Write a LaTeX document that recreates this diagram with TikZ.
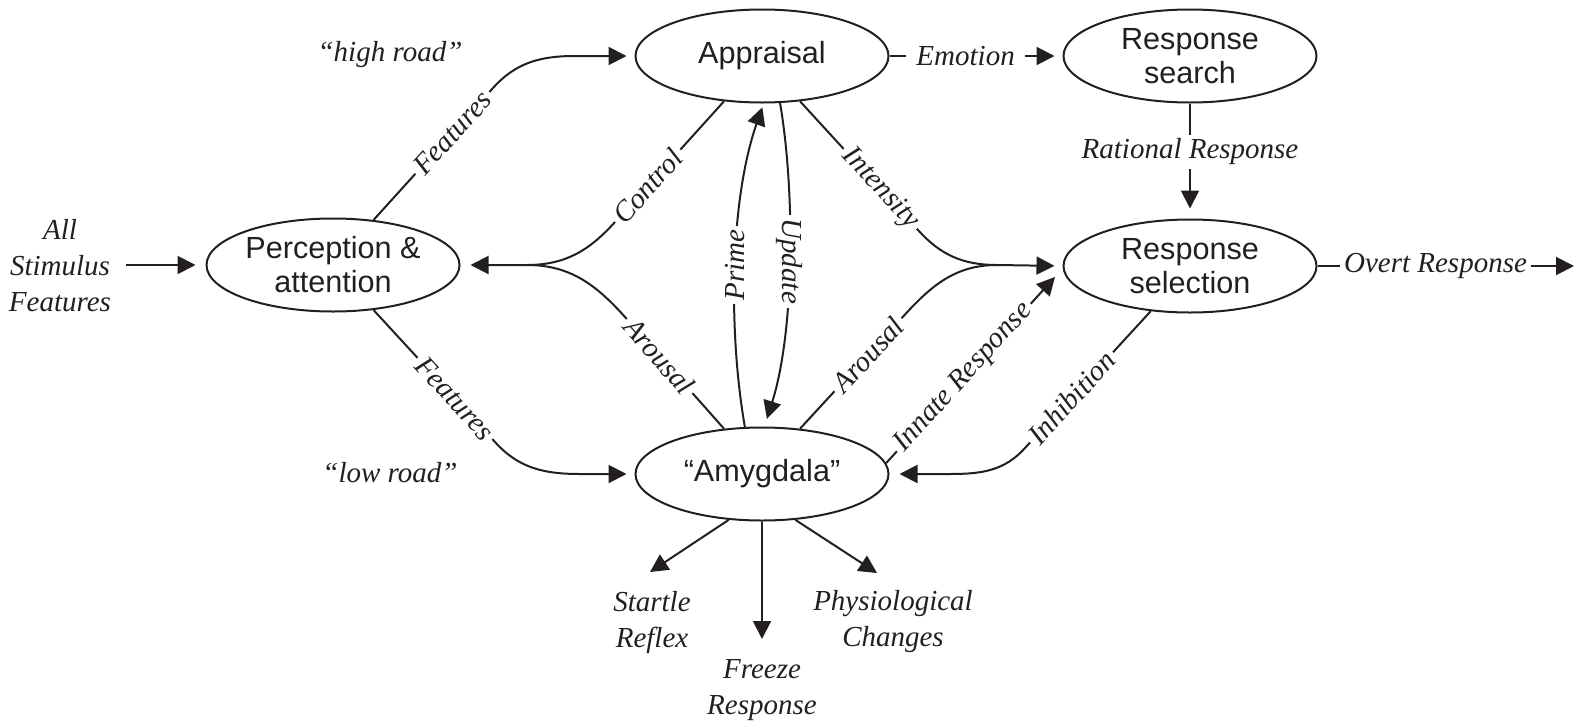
\documentclass[tikz,border=0pt]{standalone}
\usepackage{fontspec}
\setmainfont{Liberation Serif}
\newfontfamily\arialf{Liberation Sans}
\usetikzlibrary{arrows.meta,shapes.geometric}
\definecolor{ink}{RGB}{35,31,32}
\begin{document}
\begin{tikzpicture}[x=0.5pt,y=-0.5pt,
  box/.style={ellipse,draw=ink,line width=1pt,minimum width=126.5pt,minimum height=46.5pt,
    inner sep=0pt,align=center,text=ink,font=\arialf\fontsize{15.3}{17}\selectfont},
  lbl/.style={fill=white,text=ink,inner sep=2pt,font=\itshape\fontsize{14.5}{18}\selectfont},
  txt/.style={text=ink,align=center,font=\itshape\fontsize{14.5}{18}\selectfont},
  conn/.style={draw=ink,line width=1pt},
  arr/.style={conn,-{Triangle[length=9pt,width=9pt]}},
]
\useasboundingbox (0,0) rectangle (1575,723);

% processing stages
\node[box] (per)  at (333,265)  {Perception \&\\attention};
\node[box] (app)  at (762,56)   {Appraisal};
\node[box] (sear) at (1190,56)  {Response\\search};
\node[box] (sel)  at (1190,266) {Response\\selection};
\node[box] (amy)  at (762,474)  {“Amygdala”};

% free-standing texts
\node[txt] (stim) at (60,266)  {All\\Stimulus\\Features};
\node[txt] (hi)   at (390,55)  {“high road”};
\node[txt] (lo)   at (390,473) {“low road”};
\node[txt] (star) at (652,623) {Startle\\Reflex};
\node[txt] (frz)  at (762,690) {Freeze\\Response};
\node[txt] (phys) at (893,622) {Physiological\\Changes};

% junctions and free arrow ends
\coordinate (jl) at (527,265);
\coordinate (jr) at (997,265);
\coordinate (innEnd) at (1055,277);
\coordinate (outEnd) at (1574,266);
\coordinate (starTip) at (650,572);
\coordinate (frzTip) at (762,639);
\coordinate (physTip) at (877,573);

% input
\draw[arr,shorten <=4pt,shorten >=5pt] (stim.east |- per.west) -- (per.west);

% high road and low road
\draw[arr,shorten >=4pt] (per.48) -- node[lbl,sloped,pos=.66]{Features} (493,88)
  to[out=48,in=180] (575,56) -- (app.west);
\draw[arr,shorten >=4pt] (per.-48) -- node[lbl,sloped,pos=.67]{Features} (495,442)
  to[out=-48,in=180] (580,474) -- (amy.west);

% feedback to perception
\draw[arr,shorten >=5pt] (app.-130) -- node[lbl,sloped,pos=.7]{Control} (615,222)
  to[out=-132,in=0] (jl) -- (per.east);
\draw[conn] (amy.130) -- node[lbl,sloped,pos=.65]{Arousal} (625,317)
  to[out=132,in=0] (jl);

% inputs to response selection
\draw[arr,shorten >=4pt] (app.-50) -- node[lbl,sloped,pos=.68]{Intensity} (918,230)
  to[out=-48,in=180] (jr) -- (sel.west);
\draw[conn] (amy.50) -- node[lbl,sloped,pos=.68]{Arousal} (900,320)
  to[out=48,in=180] (jr);
\draw[arr] (amy.5) -- node[lbl,sloped,pos=.46]{Innate Response} (innEnd);
\draw[arr,shorten >=5pt] (sel.-131) -- node[lbl,sloped,pos=.63]{Inhibition} (1025,448)
  to[out=-132,in=0] (950,474) -- (amy.east);

% appraisal <-> amygdala
\draw[arr,shorten >=2pt] (amy.110) .. controls (728,330) and (730,200) ..
  node[lbl,rotate=90]{Prime} (app.-88);
\draw[arr,shorten >=4pt] (app.-69) .. controls (795,190) and (795,330) ..
  node[lbl,rotate=-90]{Update} (amy.87);

% emotion and response chain
\draw[arr,shorten >=4pt] (app.east) -- node[lbl,pos=.44,inner xsep=5pt]{Emotion} (sear.west);
\draw[arr,shorten >=5pt] (sear.south) -- node[lbl,pos=.42]{Rational Response} (sel.north);
\draw[arr] (sel.east) -- node[lbl,pos=.46]{Overt Response} (outEnd);

% amygdala outputs
\draw[arr] (amy.-126) -- (starTip);
\draw[arr] (amy.-90) -- (frzTip);
\draw[arr] (amy.-54) -- (physTip);
\end{tikzpicture}
\end{document}
